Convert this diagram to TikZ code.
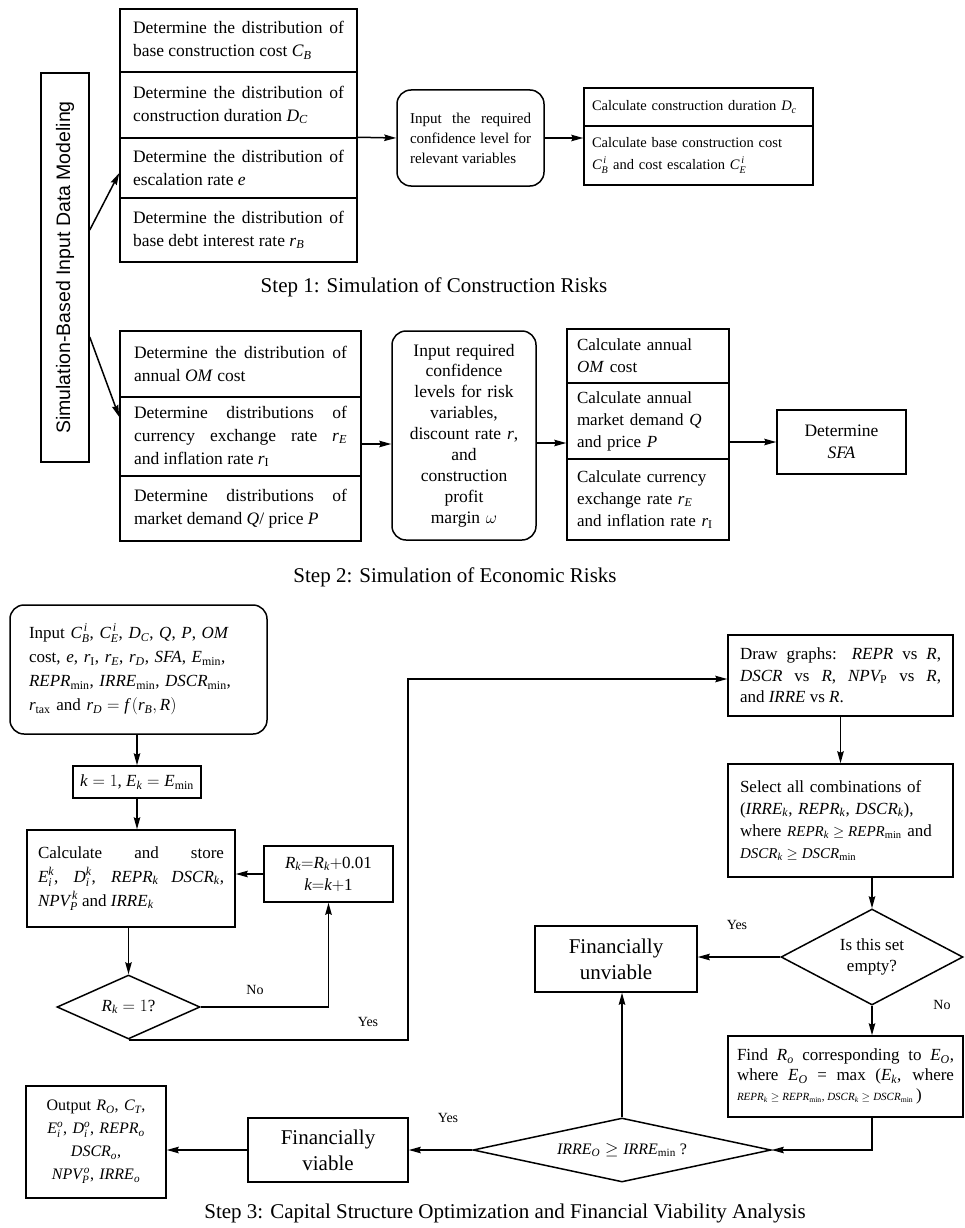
\documentclass[tikz,border=0pt]{standalone}
\usepackage{amsmath}
\usepackage{graphicx}
\usepackage{fontspec}
\setmainfont{Liberation Serif}
\newfontfamily\sansf{Liberation Sans}
\usetikzlibrary{shapes.geometric,arrows.meta,calc}
\newcommand\fsz[2]{\fontsize{#1}{#2}\selectfont}
\newcommand\V[1]{\textit{#1}}
\newcommand\mn{\textup{min}}
\begin{document}
\begin{tikzpicture}[x=1pt,y=-1pt,
 box/.style={draw, line width=1.5pt, inner sep=0pt, rectangle},
 rbox/.style={box, rounded corners=14pt},
 dbox/.style={draw, line width=1.5pt, diamond, inner sep=0pt},
 arr/.style={line width=1.5pt, -{Stealth[length=12pt,width=6.5pt,inset=1.5pt]}},
 lbl/.style={font=\fsz{14}{16}, inner sep=0pt},
 captxt/.style={font=\fsz{21}{24}, inner sep=0pt},
 lft/.style={font=\fsz{17.5}{23}, align=justify},
]
\useasboundingbox (0,0) rectangle (964,1228);

% ---------------- Step 1 ----------------
\node[box, minimum width=48pt, minimum height=389pt] (vbox) at (65,267.5)
  {\rotatebox{90}{\sansf\fsz{19.5}{22}Simulation-Based Input Data Modeling}};

\node[box, lft, minimum width=237pt, minimum height=63pt, text width=211pt] (s1a) at (238.5,40.5)
  {Determine the distribution of\linebreak base construction cost $\V{C}_{\V{B}}$};
\node[box, lft, minimum width=237pt, minimum height=66pt, text width=211pt] (s1b) at (238.5,105)
  {Determine the distribution of\linebreak construction duration $\V{D}_{\V{C}}$};
\node[box, lft, minimum width=237pt, minimum height=60pt, text width=211pt] (s1c) at (238.5,168)
  {Determine the distribution of\linebreak escalation rate \V{e}};
\node[box, lft, minimum width=237pt, minimum height=64pt, text width=211pt] (s1d) at (238.5,230)
  {Determine the distribution of\linebreak base debt interest rate $\V{r}_{\V{B}}$};

\node[rbox, minimum width=147pt, minimum height=96pt, text width=121pt, align=justify, font=\fsz{15}{20}] (in1) at (470.5,138)
  {Input the required\linebreak confidence level for\linebreak relevant variables};

\node[box, minimum width=229pt, minimum height=38pt, text width=213pt, align=left, font=\fsz{14.5}{22}] (cr1a) at (698.5,107)
  {Calculate construction duration $\V{D}_{\V{c}}$};
\node[box, minimum width=229pt, minimum height=59pt, text width=213pt, align=left, font=\fsz{14.5}{22}] (cr1b) at (698.5,155.5)
  {Calculate base construction cost\\ $\V{C}^{\,\V{i}}_{\V{B}}$ and cost escalation $\V{C}^{\,\V{i}}_{\V{E}}$};

\draw[arr] ([yshift=37.5pt]vbox.east) -- ([yshift=-5pt]s1c.west);
\draw[arr] (s1c.north east) -- (in1.west);
\draw[arr] (in1.east) -- (in1.east -| cr1b.west);

\node[captxt] (cap1) at (434,287) {Step 1: Simulation of Construction Risks};

% ---------------- Step 2 ----------------
\node[box, lft, minimum width=241pt, minimum height=66pt, text width=213pt] (s2a) at (240.5,364)
  {Determine the distribution of\linebreak annual \V{OM} cost};
\node[box, lft, minimum width=241pt, minimum height=79pt, text width=213pt] (s2b) at (240.5,436.5)
  {Determine distributions of\linebreak currency exchange rate $\V{r}_{\V{E}}$\linebreak and inflation rate $\V{r}_{\textup{I}}$};
\node[box, lft, minimum width=241pt, minimum height=65pt, text width=213pt] (s2c) at (240.5,508.5)
  {Determine distributions of\linebreak market demand \V{Q}/ price \V{P}};

\node[rbox, minimum width=144pt, minimum height=209pt, text width=130pt, align=center, font=\fsz{17.5}{20.9}] (in2) at (464,435.5)
  {Input required\\ confidence\\ levels for risk\\ variables,\\ discount rate \V{r},\\ and\\ construction\\ profit\\ margin $\omega$};

\node[box, minimum width=162pt, minimum height=54pt, text width=142pt, align=left, font=\fsz{17}{22}] (cr2a) at (648,356)
  {Calculate annual\\ \V{OM} cost};
\node[box, minimum width=162pt, minimum height=76pt, text width=142pt, align=left, font=\fsz{17}{22}] (cr2b) at (648,421)
  {Calculate annual\\ market demand \V{Q}\\ and price \V{P}};
\node[box, minimum width=162pt, minimum height=81pt, text width=142pt, align=left, font=\fsz{17}{22}] (cr2c) at (648,499.5)
  {Calculate currency\\ exchange rate $\V{r}_{\V{E}}$\\ and inflation rate $\V{r}_{\textup{I}}$};

\node[box, minimum width=129pt, minimum height=64pt, align=center, font=\fsz{17.5}{22}] (sfa) at (841.5,442)
  {Determine\\ \V{SFA}};

\draw[arr] ([yshift=-69.5pt]vbox.east) -- ([yshift=19.5pt]s2b.west);
\draw[arr] ([yshift=-7.5pt]s2b.east) -- ([yshift=-7.5pt]s2b.east -| in2.west);
\draw[arr] ([yshift=-7.5pt]in2.east) -- ([yshift=-7.5pt]in2.east -| cr2b.west);
\draw[arr] (sfa.west -| cr2b.east) -- (sfa.west);

\node[captxt] (cap2) at (455,577) {Step 2: Simulation of Economic Risks};

% ---------------- Step 3 ----------------
\node[rbox, minimum width=257pt, minimum height=129pt, text width=219pt, align=left, font=\fsz{17}{24}] (inp) at (138.5,669.5)
  {Input $\V{C}^{\,\V{i}}_{\V{B}}$, $\V{C}^{\,\V{i}}_{\V{E}}$, $\V{D}_{\V{C}}$, \V{Q}, \V{P}, \V{OM}\\
   cost, \V{e}, $\V{r}_{\textup{I}}$, $\V{r}_{\V{E}}$, $\V{r}_{\V{D}}$, \V{SFA}, $\V{E}_{\mn}$,\\
   $\V{REPR}_{\mn}$, $\V{IRRE}_{\mn}$, $\V{DSCR}_{\mn}$,\\
   $\V{r}_{\textup{tax}}$ and $\V{r}_{\V{D}} = \V{f}\,(\V{r}_{\V{B}}, \V{R})$};

\node[box, minimum width=128pt, minimum height=32pt, font=\fsz{17}{20}] (k1) at (137,782)
  {$\V{k} = 1$, $\V{E}_{\V{k}} = \V{E}_{\mn}$};

\node[box, minimum width=208pt, minimum height=97pt, text width=186pt, align=justify, font=\fsz{17}{24}] (calc) at (131,878.5)
  {Calculate and store\linebreak
   $\V{E}^{\V{k}}_{\V{i}}$, $\V{D}^{\V{k}}_{\V{i}}$, $\V{REPR}_{\V{k}}$ $\V{DSCR}_{\V{k}}$,\linebreak
   $\V{NPV}^{\,\V{k}}_{\V{P}}$ and $\V{IRRE}_{\V{k}}$};

\node[box, minimum width=129pt, minimum height=56pt, align=center, font=\fsz{17}{22}] (rk) at (328.5,874)
  {$\V{R}_{\V{k}}{=}\V{R}_{\V{k}}{+}\textup{0.01}$\\ $\V{k}{=}\V{k}{+}\textup{1}$};

\node[dbox, minimum width=143pt, minimum height=64pt, shape aspect=2.2, font=\fsz{17}{20}] (dia1) at (128.5,1007)
  {$\V{R}_{\V{k}} = 1$?};

\node[box, minimum width=225pt, minimum height=81pt, text width=201pt, align=justify, font=\fsz{17}{21.5}] (dg) at (840.5,675.5)
  {Draw graphs: \V{REPR} vs \V{R},\linebreak
   \V{DSCR} vs \V{R}, $\V{NPV}_{\textup{P}}$ vs \V{R},\linebreak
   and \V{IRRE} vs \V{R}.};

\node[box, minimum width=225pt, minimum height=113pt, text width=201pt, align=left, font=\fsz{17}{22}] (sel) at (840.5,820.5)
  {Select all combinations of\\
   ($\V{IRRE}_{\V{k}}$, $\V{REPR}_{\V{k}}$, $\V{DSCR}_{\V{k}}$),\\
   where {\fsz{15}{22}$\V{REPR}_{\V{k}} \geq \V{REPR}_{\mn}$} and\\
   {\fsz{15}{22}$\V{DSCR}_{\V{k}} \geq \V{DSCR}_{\mn}$}};

\node[dbox, minimum width=182pt, minimum height=96pt, shape aspect=1.9, align=center, font=\fsz{17}{21}] (dia2) at (872,957)
  {Is this set\\ empty?};

\node[box, minimum width=162pt, minimum height=66pt, align=center, font=\fsz{21}{26}] (unv) at (616,959)
  {Financially\\ unviable};

\node[box, minimum width=235pt, minimum height=81pt, text width=217pt, align=justify, font=\fsz{17}{20}] (find) at (845.5,1076.5)
  {Find $\V{R}_{\V{o}}$ corresponding to $\V{E}_{\V{O}}$,\linebreak
   where $\V{E}_{\V{O}}$ = max ($\V{E}_{\V{k}}$, where\linebreak
   {\fsz{11}{20}$\V{REPR}_{\V{k}} \geq \V{REPR}_{\mn}$, $\V{DSCR}_{\V{k}} \geq \V{DSCR}_{\mn}$}\,)};

\node[dbox, minimum width=298pt, minimum height=64pt, shape aspect=4.6, font=\fsz{16}{20}] (dia3) at (622,1150)
  {$\V{IRRE}_{\V{O}} \geq \V{IRRE}_{\mn}$ ?};

\node[box, minimum width=160pt, minimum height=64pt, align=center, font=\fsz{21}{26}] (viab) at (328,1150)
  {Financially\\ viable};

\node[box, minimum width=140pt, minimum height=112pt, text width=132pt, align=center, font=\fsz{16}{23}] (out) at (96,1142)
  {Output $\V{R}_{\V{O}}$, $\V{C}_{\V{T}}$,\\
   $\V{E}^{\V{o}}_{\V{i}}$, $\V{D}^{\V{o}}_{\V{i}}$, $\V{REPR}_{\V{o}}$\\
   $\V{DSCR}_{\V{o}}$,\\
   $\V{NPV}^{\,\V{o}}_{\V{P}}$, $\V{IRRE}_{\V{o}}$};

\coordinate (yc) at (408,1039);

\draw[arr] (k1.north |- inp.south) -- (k1.north);
\draw[arr] (k1.south) -- (k1.south |- calc.north);
\draw[arr] (rk.west) -- (rk.west -| calc.east);
\draw[arr] (dia1.north |- calc.south) -- (dia1.north);
\draw[arr] (dia1.east) -| (rk.south);
\draw[arr] (dia1.south) -- (dia1.south -| yc) |- ([yshift=-3.5pt]dg.west);
\draw[arr] (dg.south) -- (sel.north);
\draw[arr] (dia2.north |- sel.south) -- (dia2.north);
\draw[arr] (dia2.west) -- (dia2.west -| unv.east);
\draw[arr] (dia2.south) -- (dia2.south |- find.north);
\draw[arr] (dia2.south |- find.south) |- (dia3.east);
\draw[arr] (dia3.north) -- (dia3.north |- unv.south);
\draw[arr] (dia3.west) -- (viab.east);
\draw[arr] (viab.west) -- (viab.west -| out.east);

\node[lbl] (no1) at (255,990) {No};
\node[lbl] (yes1) at (368,1022) {Yes};
\node[lbl] (yes2) at (737,925) {Yes};
\node[lbl] (no2) at (942,1005) {No};
\node[lbl] (yes3) at (448,1118) {Yes};

\node[captxt] (cap3) at (505,1213) {Step 3: Capital Structure Optimization and Financial Viability Analysis};
\end{tikzpicture}
\end{document}
